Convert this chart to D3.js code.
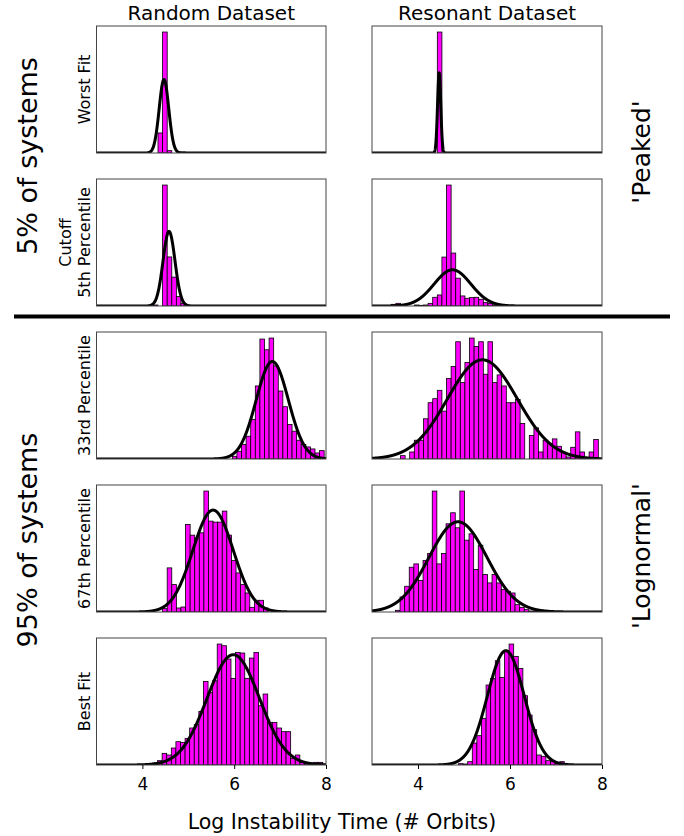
<!DOCTYPE html>
<html><head><meta charset="utf-8">
<script src="https://cdn.jsdelivr.net/npm/d3@7"></script>
<style>body{margin:0;background:#fff} svg{display:block;font-family:"DejaVu Sans",sans-serif}</style>
</head><body><svg id="c" width="684" height="836"></svg>
<script>
// ---------- data ----------
const columnTitles = ["Random Dataset", "Resonant Dataset"];
const rowLabels = [["Worst Fit"], ["Cutoff", "5th Percentile"], ["33rd Percentile"], ["67th Percentile"], ["Best Fit"]];
const groupLabels = ["5% of systems", "95% of systems"];
const shapeLabels = ["'Peaked'", "'Lognormal'"];
const xLabel = "Log Instability Time (# Orbits)";
const xDomain = [3, 8];
const xTicks = [4, 6, 8];
const binWidth = 0.1;

// histogram bin starts (log orbits) per row
const randomBinStart   = [4.34, 4.24, 5.96, 4.44, 4.23];
const resonantBinStart = [4.42, 3.42, 3.62, 3.51, 4.88];

// histogram bar heights (relative counts)
const randomWorstFit   = [60, 362, 7, 0, 0, 3];
const randomCutoff     = [3, 0, 360, 146, 86, 28, 8];
const random33rd       = [8, 23, 43, 68, 118, 218, 358, 326, 361, 278, 203, 156, 103, 83, 56, 43, 36, 30, 18, 25];
const random67th       = [10, 132, 82, 12, 15, 262, 230, 222, 237, 362, 272, 269, 269, 302, 230, 154, 117, 82, 57, 14, 35, 35, 12];
const randomBestFit    = [6, 13, 35, 30, 51, 70, 68, 80, 111, 121, 161, 251, 218, 253, 363, 358, 318, 260, 338, 336, 260, 321, 338, 178, 213, 128, 128, 111, 100, 100, 20, 30, 8, 8, 6, 8, 8];
const resonantWorstFit = [362];
const resonantCutoff   = [5, 8, 3, 0, 0, 3, 2, 3, 8, 26, 33, 146, 361, 158, 83, 30, 23, 25, 26, 20, 10, 8, 3, 0, 0, 0, 2];
const resonant33rd     = [10, 0, 21, 56, 56, 120, 168, 180, 205, 143, 240, 276, 350, 228, 288, 361, 336, 350, 253, 350, 228, 251, 218, 168, 168, 178, 106, 0, 70, 93, 21, 56, 46, 60, 38, 20, 6, 35, 81, 21, 0, 21, 58];
const resonant67th     = [5, 45, 77, 134, 144, 94, 154, 175, 362, 144, 175, 264, 297, 252, 362, 215, 234, 127, 200, 112, 87, 112, 87, 67, 62, 57, 22, 14, 7, 3, 3, 5, 5];
const resonantBestFit  = [4, 3, 10, 66, 88, 140, 240, 260, 313, 263, 343, 363, 326, 290, 208, 150, 106, 30, 26, 13, 10, 6, 10, 3];

// fitted normal curves: mean, sigma, peak height
const randomFitMean   = [4.47, 4.58, 6.83, 5.54, 5.98];
const randomFitSigma  = [0.104, 0.13, 0.35, 0.44, 0.57];
const randomFitPeak   = [220, 222, 291, 305, 331];
const resonantFitMean  = [4.46, 4.75, 5.40, 4.87, 5.91];
const resonantFitSigma = [0.035, 0.40, 0.76, 0.63, 0.40];
const resonantFitPeak  = [240, 108, 296, 270, 343];

// ---------- assembly ----------
const counts = [
  [randomWorstFit, randomCutoff, random33rd, random67th, randomBestFit],
  [resonantWorstFit, resonantCutoff, resonant33rd, resonant67th, resonantBestFit]
];
const starts = [randomBinStart, resonantBinStart];
const fits = [
  {m: randomFitMean, s: randomFitSigma, p: randomFitPeak},
  {m: resonantFitMean, s: resonantFitSigma, p: resonantFitPeak}
];

const svg = d3.select("#c");
const colX = [[96.5, 326], [372, 602]];
const rowTop = [26, 179, 332, 485, 638];
const panelH = 127;

columnTitles.forEach((t, c) => {
  svg.append("text").attr("x", (colX[c][0] + colX[c][1]) / 2).attr("y", 20)
    .attr("text-anchor", "middle").attr("font-size", 20).text(t);
});

for (let c = 0; c < 2; c++) {
  const x = d3.scaleLinear().domain(xDomain).range(colX[c]);
  for (let r = 0; r < 5; r++) {
    const top = rowTop[r], bottom = top + panelH;
    const vals = counts[c][r];
    const mu = fits[c].m[r], sg = fits[c].s[r], pk = fits[c].p[r];
    const ymax = 1.05 * Math.max(d3.max(vals), pk);
    const y = d3.scaleLinear().domain([0, ymax]).range([bottom, top]);
    const g = svg.append("g");
    const cid = `clip${c}${r}`;
    g.append("clipPath").attr("id", cid).append("rect")
      .attr("x", colX[c][0]).attr("y", top).attr("width", colX[c][1] - colX[c][0]).attr("height", panelH);

    const bins = vals.map((v, i) => ({x0: starts[c][r] + i * binWidth, x1: starts[c][r] + (i + 1) * binWidth, v}))
      .filter(d => d.v > 0);
    g.append("g").attr("clip-path", `url(#${cid})`).selectAll("rect").data(bins).join("rect")
      .attr("x", d => x(d.x0)).attr("width", d => x(d.x1) - x(d.x0))
      .attr("y", d => y(d.v)).attr("height", d => y(0) - y(d.v))
      .attr("fill", "#ff00ff").attr("stroke", "#000").attr("stroke-width", 0.8);

    const xs = d3.range(0, 2001).map(i => xDomain[0] + i * (xDomain[1] - xDomain[0]) / 2000);
    const line = d3.line().x(d => x(d)).y(d => y(pk * Math.exp(-0.5 * ((d - mu) / sg) ** 2)));
    g.append("path").attr("clip-path", `url(#${cid})`).attr("d", line(xs))
      .attr("fill", "none").attr("stroke", "#000").attr("stroke-width", 3).attr("stroke-linejoin", "round");

    g.append("rect").attr("x", colX[c][0]).attr("y", top).attr("width", colX[c][1] - colX[c][0]).attr("height", panelH)
      .attr("fill", "none").attr("stroke", "#444").attr("stroke-width", 1);

    if (r === 4) {
      const ax = svg.append("g").attr("transform", `translate(0,${bottom})`)
        .call(d3.axisBottom(x).tickValues(xTicks).tickSize(4).tickPadding(9).tickFormat(d3.format("d")));
      ax.select(".domain").remove();
      ax.selectAll("text").attr("font-size", 17).attr("font-family", "DejaVu Sans").attr("fill", "#000");
      ax.selectAll("line").attr("stroke", "#000");
    }
  }
}

// row labels
rowLabels.forEach((lines, r) => {
  const cy = rowTop[r] + panelH / 2;
  lines.forEach((l, i) => {
    const bx = 89.5 - (lines.length - 1 - i) * 18.5;
    svg.append("text").attr("transform", `translate(${bx},${cy}) rotate(-90)`)
      .attr("text-anchor", "middle").attr("font-size", 16).text(l);
  });
});

// group labels
const groupCenters = [156, 540];
groupLabels.forEach((t, i) => {
  svg.append("text").attr("transform", `translate(37,${groupCenters[i]}) rotate(-90)`)
    .attr("text-anchor", "middle").attr("font-size", 27).text(t);
});
const shapeCenters = [152, 556];
shapeLabels.forEach((t, i) => {
  svg.append("text").attr("transform", `translate(650,${shapeCenters[i]}) rotate(-90)`)
    .attr("text-anchor", "middle").attr("font-size", 25).text(t);
});

// separator
svg.append("line").attr("x1", 14).attr("x2", 670).attr("y1", 316.5).attr("y2", 316.5)
  .attr("stroke", "#000").attr("stroke-width", 4);

// x label
svg.append("text").attr("x", 342).attr("y", 829).attr("text-anchor", "middle").attr("font-size", 20.5).text(xLabel);
</script></body></html>
